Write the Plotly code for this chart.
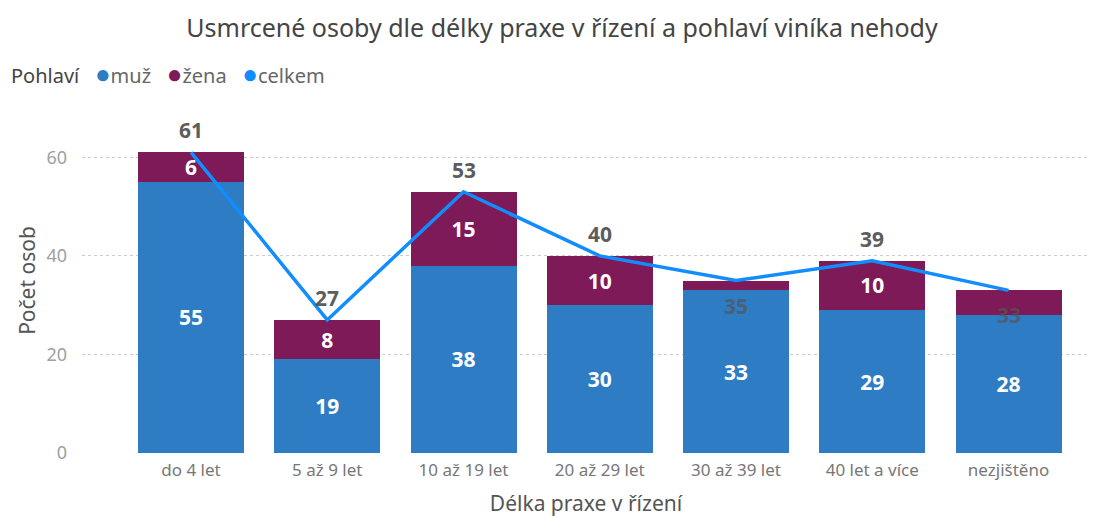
import plotly.graph_objects as go

categories = ["do 4 let", "5 až 9 let", "10 až 19 let", "20 až 29 let", "30 až 39 let", "40 let a více", "nezjištěno"]
muz = [55, 19, 38, 30, 33, 29, 28]
zena = [6, 8, 15, 10, 2, 10, 5]
celkem = [61, 27, 53, 40, 35, 39, 33]
series_names = ["muž", "žena", "celkem"]

C_MUZ = "#2E7CC4"
C_ZENA = "#7D1A57"
C_LINE = "#118DFF"
FONT = "Noto Sans"

zena_text = [str(v) if v > 5 else "" for v in zena]
tot_shift = [22, 22, 22, 22, -25, 22, -25]

fig = go.Figure()
fig.add_trace(go.Bar(x=categories, y=muz, name=series_names[0], marker_color=C_MUZ,
                     text=[str(v) for v in muz], textposition="inside", insidetextanchor="middle",
                     textangle=0, constraintext="none",
                     textfont=dict(color="white", size=21, family=FONT, weight="bold"),
                     marker_line_width=0))
fig.add_trace(go.Bar(x=categories, y=zena, name=series_names[1], marker_color=C_ZENA,
                     text=zena_text, textposition="inside", insidetextanchor="middle",
                     textangle=0, constraintext="none",
                     textfont=dict(color="white", size=21, family=FONT, weight="bold"),
                     marker_line_width=0))
fig.add_trace(go.Scatter(x=categories, y=celkem, name=series_names[2], mode="lines",
                         line=dict(color=C_LINE, width=3.5)))

for cat, v, s in zip(categories, celkem, tot_shift):
    fig.add_annotation(x=cat, y=v, text=f"<b>{v}</b>", showarrow=False, yshift=s,
                       yanchor="middle", font=dict(size=21, color="#555555", family=FONT),
                       opacity=0.95 if s > 0 else 0.7)

NB = "\u00a0"
def dot(c):
    return f"<span style='color:{c};font-size:26px'>●</span>"
legend_html = ("<span style='color:#444444'>Pohlaví</span>" + NB * 3 +
               dot(C_MUZ) + series_names[0] + NB * 3 +
               dot(C_ZENA) + series_names[1] + NB * 3 +
               dot(C_LINE) + series_names[2])
fig.add_annotation(text=legend_html, xref="paper", yref="paper", x=-0.0725, y=1.1,
                   xanchor="left", yanchor="middle", showarrow=False,
                   font=dict(size=20, color="#666666", family=FONT))

fig.update_layout(
    width=1099, height=509,
    barmode="stack", bargap=0.222,
    plot_bgcolor="white", paper_bgcolor="white",
    margin=dict(l=74, r=17, t=100, b=64),
    font=dict(family=FONT, color="#666666"),
    showlegend=False,
    title=dict(text="Usmrcené osoby dle délky praxe v řízení a pohlaví viníka nehody",
               x=(562 - 8) / 1099, xref="container", xanchor="center", y=1 - 20 / 509, yref="container",
               yanchor="middle",
               font=dict(size=25, color="#444444", family=FONT)),
)
fig.update_xaxes(range=[-0.80, 6.598], showgrid=False, showline=False, ticks="", automargin=False,
                 tickfont=dict(size=17, color="#777777"), ticklabelstandoff=5,
                 title=dict(text="Délka praxe v řízení", font=dict(size=21, color="#555555"), standoff=20))
fig.update_yaxes(range=[0, 70], tickvals=[0, 20, 40, 60], showgrid=True, gridcolor="#CCCCCC",
                 griddash="dot", gridwidth=1, zeroline=False, showline=False, automargin=False,
                 tickfont=dict(size=18, color="#A0A0A0"), ticklabelstandoff=14,
                 title=dict(text="Počet osob", font=dict(size=21, color="#555555"), standoff=5))
fig.write_html("out.html")
